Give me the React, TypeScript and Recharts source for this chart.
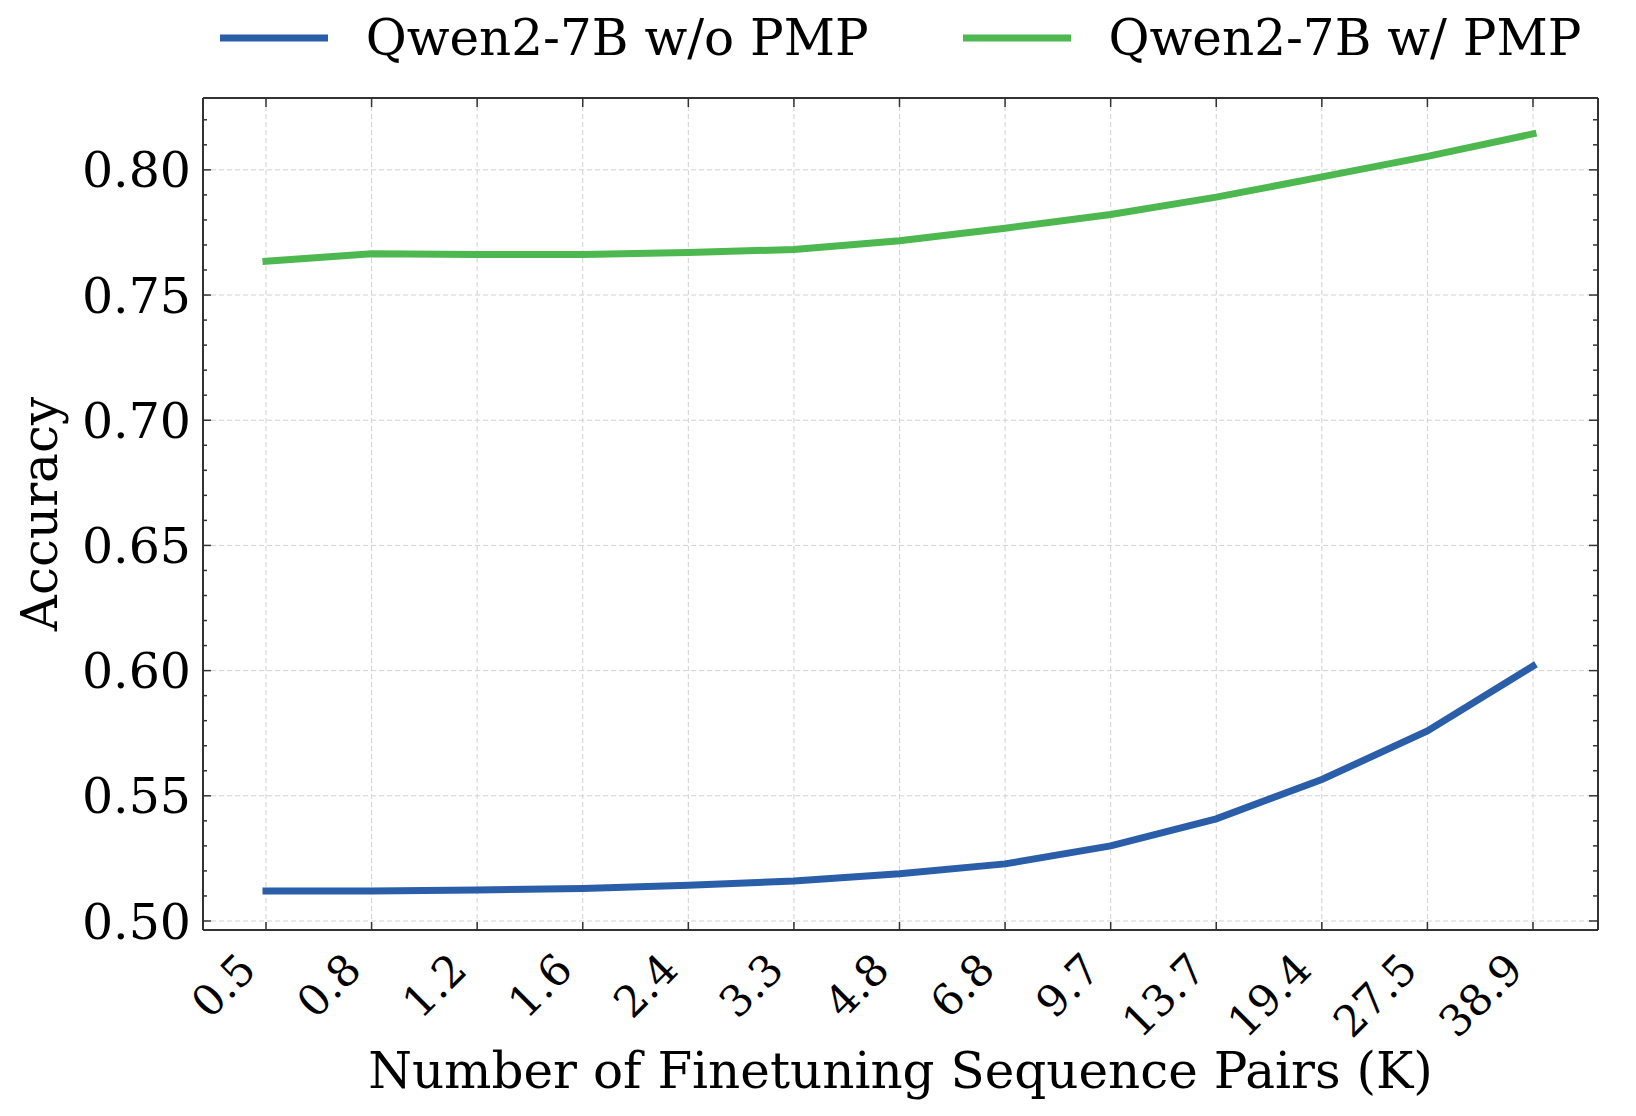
import React from "react";
import {
  LineChart,
  Line,
  XAxis,
  YAxis,
  CartesianGrid,
  Legend,
} from "recharts";

const pairCounts = ["0.5", "0.8", "1.2", "1.6", "2.4", "3.3", "4.8", "6.8", "9.7", "13.7", "19.4", "27.5", "38.9"];
const accWithoutPmp = [0.512, 0.512, 0.5124, 0.513, 0.5143, 0.516, 0.5189, 0.5228, 0.53, 0.5408, 0.5565, 0.5759, 0.6018];
const accWithPmp = [0.7635, 0.7665, 0.7662, 0.7662, 0.767, 0.7682, 0.7717, 0.7767, 0.7822, 0.7891, 0.7972, 0.8054, 0.8144];

const seriesNames = ["Qwen2-7B w/o PMP", "Qwen2-7B w/ PMP"];
const seriesColors = ["#2b5ea8", "#4cb84f"];

const majorTicks = [0.5, 0.55, 0.6, 0.65, 0.7, 0.75, 0.8];
const allTicks = [
  0.5, 0.51, 0.52, 0.53, 0.54, 0.55, 0.56, 0.57, 0.58, 0.59, 0.6, 0.61, 0.62, 0.63, 0.64, 0.65, 0.66,
  0.67, 0.68, 0.69, 0.7, 0.71, 0.72, 0.73, 0.74, 0.75, 0.76, 0.77, 0.78, 0.79, 0.8, 0.81, 0.82,
];
const yDomain = [0.4964, 0.8287];

const data = pairCounts.map((k, i) => ({
  k,
  without: accWithoutPmp[i],
  with: accWithPmp[i],
}));

const FONT = "'DejaVu Serif', serif";
const FRAME = "#333";

const isMajor = (v: number) => Math.round(v * 100) % 5 === 0;

// bottom axis: inward tick + rotated label
const BottomTick = ({ x, y, payload }: any) => {
  const lx = x - 8;
  const ly = y + 42;
  return (
    <g>
      <line x1={x} x2={x} y1={y} y2={y - 8} stroke={FRAME} strokeWidth={1.5} />
      <text
        x={lx}
        y={ly}
        transform={`rotate(-45 ${lx} ${ly})`}
        textAnchor="end"
        fontSize={43}
        fontFamily={FONT}
        fill="#000"
      >
        {payload.value}
      </text>
    </g>
  );
};

const TopTick = ({ x, y }: any) => (
  <line x1={x} x2={x} y1={y + 1} y2={y + 9} stroke={FRAME} strokeWidth={1.5} />
);

const LeftTick = ({ x, y, payload }: any) => {
  const major = isMajor(payload.value);
  return (
    <g>
      <line x1={x} x2={x + (major ? 8 : 4)} y1={y} y2={y} stroke={FRAME} strokeWidth={1.5} />
      {major && (
        <text x={x - 12} y={y} dy="0.36em" textAnchor="end" fontSize={49} fontFamily={FONT} fill="#000">
          {payload.value.toFixed(2)}
        </text>
      )}
    </g>
  );
};

const RightTick = ({ x, y, payload }: any) => {
  const major = isMajor(payload.value);
  return <line x1={x - 1} x2={x - 1 - (major ? 8 : 4)} y1={y} y2={y} stroke={FRAME} strokeWidth={1.5} />;
};

const XTitle = ({ viewBox }: any) => (
  <text
    x={viewBox.x + viewBox.width / 2}
    y={viewBox.y + viewBox.height - 28}
    textAnchor="middle"
    fontSize={50}
    fontFamily={FONT}
    fill="#000"
  >
    Number of Finetuning Sequence Pairs (K)
  </text>
);

const YTitle = ({ viewBox }: any) => {
  const cx = viewBox.x + 57;
  const cy = viewBox.y + viewBox.height / 2;
  return (
    <text
      x={cx}
      y={cy}
      transform={`rotate(-90 ${cx} ${cy})`}
      textAnchor="middle"
      fontSize={50}
      fontFamily={FONT}
      fill="#000"
    >
      Accuracy
    </text>
  );
};

const LegendContent = ({ payload }: any) => {
  const items = (payload || [])
    .filter((p: any) => seriesNames.includes(p.value))
    .sort((a: any, b: any) => seriesNames.indexOf(a.value) - seriesNames.indexOf(b.value));
  return (
    <div
      style={{
        display: "flex",
        justifyContent: "center",
        alignItems: "center",
        height: 76,
        fontFamily: FONT,
        fontSize: 50,
        color: "#000",
      }}
    >
      {items.map((item: any, i: number) => (
        <div
          key={item.value}
          style={{ display: "flex", alignItems: "center", marginRight: i < items.length - 1 ? 94 : 0 }}
        >
          <svg width={108} height={8} style={{ display: "block" }}>
            <line x1={0} x2={108} y1={4} y2={4} stroke={item.color} strokeWidth={7} />
          </svg>
          <span style={{ marginLeft: 38, whiteSpace: "nowrap" }}>{item.value}</span>
        </div>
      ))}
    </div>
  );
};

export default function App() {
  return (
    <div style={{ position: "absolute", left: 0, top: 0, background: "#fff" }}>
      <LineChart width={1636} height={1116} data={data} margin={{ top: 97, right: 37, bottom: 0, left: 0 }}>
        <CartesianGrid
          xAxisId="bottom"
          yAxisId="left"
          horizontalValues={majorTicks}
          stroke="#d2d2d2"
          strokeDasharray="5 3"
          strokeWidth={1}
        />
        <XAxis
          xAxisId="bottom"
          dataKey="k"
          type="category"
          orientation="bottom"
          height={186}
          padding={{ left: 63, right: 65 }}
          interval={0}
          tickSize={0}
          tickMargin={0}
          tickLine={false}
          axisLine={{ stroke: FRAME, strokeWidth: 2 }}
          tick={<BottomTick />}
          label={{ content: XTitle }}
        />
        <XAxis
          xAxisId="top"
          dataKey="k"
          type="category"
          orientation="top"
          height={1}
          padding={{ left: 63, right: 65 }}
          interval={0}
          tickSize={0}
          tickMargin={0}
          tickLine={false}
          axisLine={{ stroke: FRAME, strokeWidth: 2 }}
          tick={<TopTick />}
        />
        <YAxis
          yAxisId="left"
          orientation="left"
          width={203}
          type="number"
          domain={yDomain}
          ticks={allTicks}
          interval={0}
          allowDataOverflow
          tickSize={0}
          tickMargin={0}
          tickLine={false}
          axisLine={{ stroke: FRAME, strokeWidth: 2 }}
          tick={<LeftTick />}
          label={{ content: YTitle }}
        />
        <YAxis
          yAxisId="right"
          orientation="right"
          width={1}
          type="number"
          domain={yDomain}
          ticks={allTicks}
          interval={0}
          allowDataOverflow
          tickSize={0}
          tickMargin={0}
          tickLine={false}
          axisLine={{ stroke: FRAME, strokeWidth: 2 }}
          tick={<RightTick />}
        />
        <Legend
          verticalAlign="middle"
          align="center"
          layout="horizontal"
          wrapperStyle={{ top: 0, left: 203, width: 1395 }}
          content={<LegendContent />}
        />
        <Line
          xAxisId="top"
          yAxisId="right"
          dataKey="with"
          stroke="none"
          dot={false}
          activeDot={false}
          legendType="none"
          isAnimationActive={false}
        />
        <Line
          xAxisId="bottom"
          yAxisId="left"
          type="linear"
          dataKey="without"
          name={seriesNames[0]}
          stroke={seriesColors[0]}
          strokeWidth={7}
          strokeLinecap="square"
          dot={false}
          activeDot={false}
          isAnimationActive={false}
        />
        <Line
          xAxisId="bottom"
          yAxisId="left"
          type="linear"
          dataKey="with"
          name={seriesNames[1]}
          stroke={seriesColors[1]}
          strokeWidth={7}
          strokeLinecap="square"
          dot={false}
          activeDot={false}
          isAnimationActive={false}
        />
      </LineChart>
    </div>
  );
}
